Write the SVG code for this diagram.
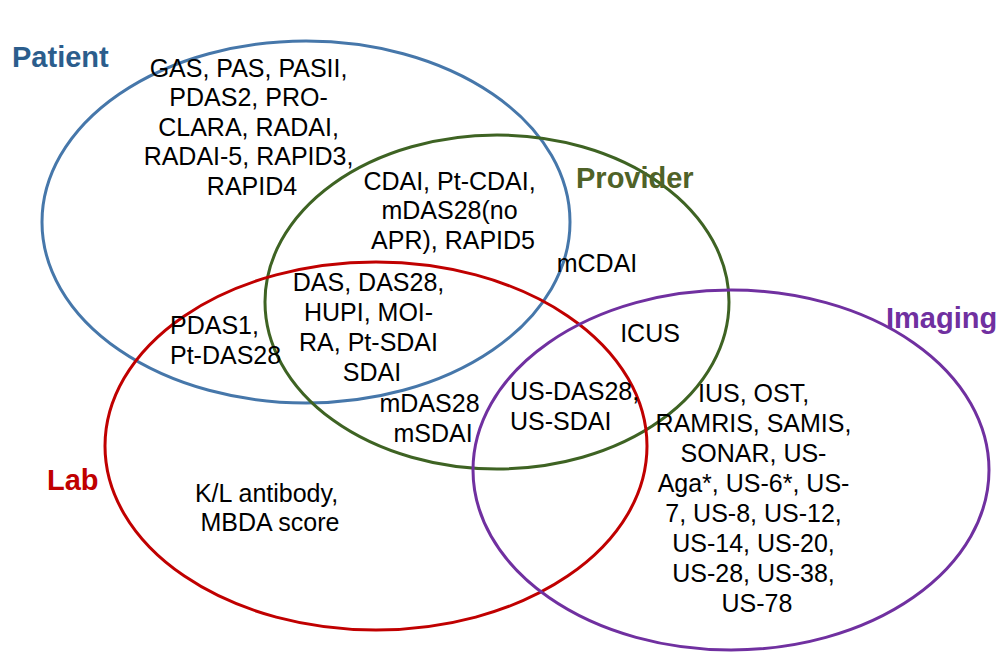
<svg xmlns="http://www.w3.org/2000/svg" width="1000" height="665" viewBox="0 0 1000 665">
<style>
.set{fill:none;stroke-width:3}
.t{font-family:"Liberation Sans",Arial,sans-serif;font-size:25px;fill:#000}
.c{text-anchor:middle}
.lbl{font-family:"Liberation Sans",Arial,sans-serif;font-size:29px;font-weight:bold}
</style>
<rect width="1000" height="665" fill="#fff"/>
<g id="sets">
<g id="patient"><ellipse class="set" cx="306" cy="222" rx="264" ry="181" stroke="#4677AA"/></g>
<g id="provider"><ellipse class="set" cx="497" cy="302" rx="232" ry="167" stroke="#3E6323"/></g>
<g id="lab"><ellipse class="set" cx="376" cy="446" rx="271" ry="184" stroke="#C00000"/></g>
<g id="imaging"><ellipse class="set" cx="731" cy="470" rx="258" ry="180" stroke="#7030A0"/></g>
</g>
<g id="labels">
<text id="label-patient" class="lbl" x="12" y="67" fill="#2B5D8C">Patient</text>
<text id="label-provider" class="lbl" x="576" y="188" fill="#4F6228">Provider</text>
<text id="label-imaging" class="lbl" x="886" y="328" fill="#7030A0">Imaging</text>
<text id="label-lab" class="lbl" x="47" y="490" fill="#C00000">Lab</text>
</g>
<g id="patient-only"><text class="t c">
<tspan x="252" y="77">GAS, PAS, PASII,</tspan>
<tspan x="252" y="106">PDAS2, PRO-</tspan>
<tspan x="252" y="136">CLARA, RADAI,</tspan>
<tspan x="252" y="165">RADAI-5, RAPID3,</tspan>
<tspan x="252" y="195">RAPID4</tspan>
</text></g>
<g id="patient-provider"><text class="t c">
<tspan x="453" y="190">CDAI, Pt-CDAI,</tspan>
<tspan x="453" y="219">mDAS28(no</tspan>
<tspan x="453" y="249">APR), RAPID5</tspan>
</text></g>
<g id="provider-only"><text class="t c" x="597" y="272">mCDAI</text></g>
<g id="patient-provider-lab"><text class="t c">
<tspan x="372" y="291">DAS, DAS28,</tspan>
<tspan x="372" y="321">HUPI, MOI-</tspan>
<tspan x="372" y="351">RA, Pt-SDAI</tspan>
<tspan x="372" y="381">SDAI</tspan>
</text></g>
<g id="patient-lab"><text class="t">
<tspan x="170" y="334">PDAS1,</tspan>
<tspan x="170" y="364">Pt-DAS28</tspan>
</text></g>
<g id="provider-lab"><text class="t c">
<tspan x="433" y="412">mDAS28</tspan>
<tspan x="433" y="442">mSDAI</tspan>
</text></g>
<g id="provider-lab-imaging"><text class="t">
<tspan x="510" y="400">US-DAS28,</tspan>
<tspan x="510" y="430">US-SDAI</tspan>
</text></g>
<g id="provider-imaging"><text class="t c" x="650" y="342">ICUS</text></g>
<g id="lab-only"><text class="t c">
<tspan x="270" y="502">K/L antibody,</tspan>
<tspan x="270" y="531">MBDA score</tspan>
</text></g>
<g id="imaging-only"><text class="t c">
<tspan x="757" y="402">IUS, OST,</tspan>
<tspan x="757" y="432">RAMRIS, SAMIS,</tspan>
<tspan x="757" y="462">SONAR, US-</tspan>
<tspan x="757" y="492">Aga*, US-6*, US-</tspan>
<tspan x="757" y="522">7, US-8, US-12,</tspan>
<tspan x="757" y="552">US-14, US-20,</tspan>
<tspan x="757" y="582">US-28, US-38,</tspan>
<tspan x="757" y="612">US-78</tspan>
</text></g>
</svg>
